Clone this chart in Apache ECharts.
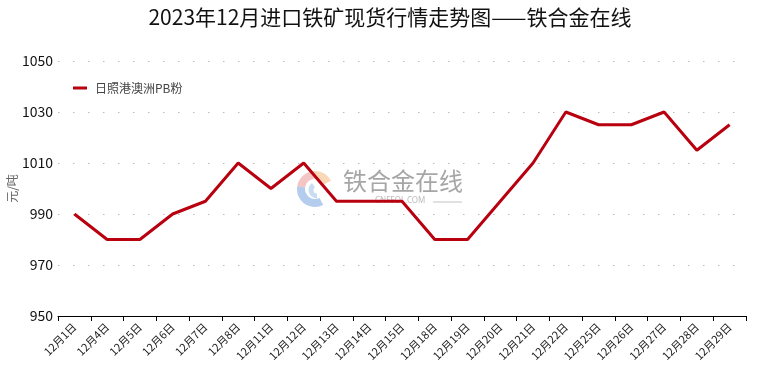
<!DOCTYPE html>
<html><head><meta charset="utf-8">
<script src="https://cdn.jsdelivr.net/npm/echarts@6/dist/echarts.min.js"></script>
<style>html,body{margin:0;padding:0;background:#fff}#c{width:760px;height:374px}</style>
</head><body><div id="c"></div>
<script>
const titleText = '2023年12月进口铁矿现货行情走势图——铁合金在线';
const seriesName = '日照港澳洲PB粉';
const categories = ['12月1日','12月4日','12月5日','12月6日','12月7日','12月8日','12月11日','12月12日','12月13日','12月14日','12月15日','12月18日','12月19日','12月20日','12月21日','12月22日','12月25日','12月26日','12月27日','12月28日','12月29日'];
const values = [990,980,980,990,995,1010,1000,1010,995,995,995,980,980,995,1010,1030,1025,1025,1030,1015,1025];
const yMin = 950, yMax = 1050, yStep = 20;
const yName = '元/吨';

const chart = echarts.init(document.getElementById('c'));
const font = '"Noto Sans CJK SC", "Noto Sans", sans-serif';
chart.setOption({
  animation: false,
  textStyle: {fontFamily: font},
  title: {text: titleText, left: 385, top: 2, textAlign: 'center',
    textStyle: {fontSize: 21, fontWeight: 'normal', color: '#111', fontFamily: font}},
  legend: {data: [seriesName], left: 68, top: 77, itemWidth: 14, itemHeight: 3, itemGap: 10,
    icon: 'rect', textStyle: {fontSize: 12, color: '#444', padding: [0, 0, 0, 3]}},
  grid: {left: 58, right: 14, top: 61, bottom: 58, containLabel: false, outerBoundsMode: 'none'},
  xAxis: {type: 'category', data: categories, boundaryGap: true,
    axisLine: {lineStyle: {color: '#000', width: 1}},
    axisTick: {show: true, alignWithLabel: false, length: 5, lineStyle: {color: '#000'}},
    axisLabel: {rotate: 45, fontSize: 11, color: '#222', margin: 9, interval: 0}},
  yAxis: {type: 'value', min: yMin, max: yMax, interval: yStep,
    name: yName, nameLocation: 'middle', nameGap: 40, nameRotate: 90, nameMoveOverlap: false,
    nameTextStyle: {fontSize: 12, color: '#666'},
    axisLine: {show: false}, axisTick: {show: false},
    axisLabel: {fontSize: 14, color: '#111', margin: 5, formatter: v => String(v)},
    splitLine: {show: true, lineStyle: {color: '#bbb', width: 1.2, type: [1.5, 13.5]}}},
  graphic: [
    {type: 'arc', shape: {cx: 315, cy: 189, r: 14, startAngle: Math.PI*0.35, endAngle: Math.PI*1.05}, style: {stroke: 'rgba(130,170,225,0.6)', lineWidth: 8, fill: null}, z: 1},
    {type: 'arc', shape: {cx: 315, cy: 189, r: 14, startAngle: Math.PI*1.05, endAngle: Math.PI*1.45}, style: {stroke: 'rgba(235,150,150,0.55)', lineWidth: 8, fill: null}, z: 1},
    {type: 'arc', shape: {cx: 315, cy: 189, r: 14, startAngle: Math.PI*1.45, endAngle: Math.PI*1.85}, style: {stroke: 'rgba(245,195,145,0.65)', lineWidth: 8, fill: null}, z: 1},
    {type: 'arc', shape: {cx: 317, cy: 190, r: 6, startAngle: Math.PI*0.5, endAngle: Math.PI*1.3}, style: {stroke: 'rgba(150,185,230,0.5)', lineWidth: 5, fill: null}, z: 1},
    {type: 'text', left: 343, top: 169, style: {text: '铁合金在线', fill: 'rgba(150,150,150,0.85)', font: '24px "Noto Sans CJK SC"'}, z: 1},
    {type: 'text', left: 375, top: 197, style: {text: 'CNFEOL.COM', fill: 'rgba(170,170,170,0.8)', font: '8px "Noto Sans"'}, z: 1},
    {type: 'line', shape: {x1: 433, y1: 202, x2: 462, y2: 202}, style: {stroke: 'rgba(180,180,180,0.8)', lineWidth: 1}, z: 1}
  ],
  series: [{name: seriesName, type: 'line', data: values, showSymbol: false, symbol: 'none',
    lineStyle: {color: '#b8000f', width: 3}, itemStyle: {color: '#b8000f'}, z: 5}]
});
</script></body></html>
